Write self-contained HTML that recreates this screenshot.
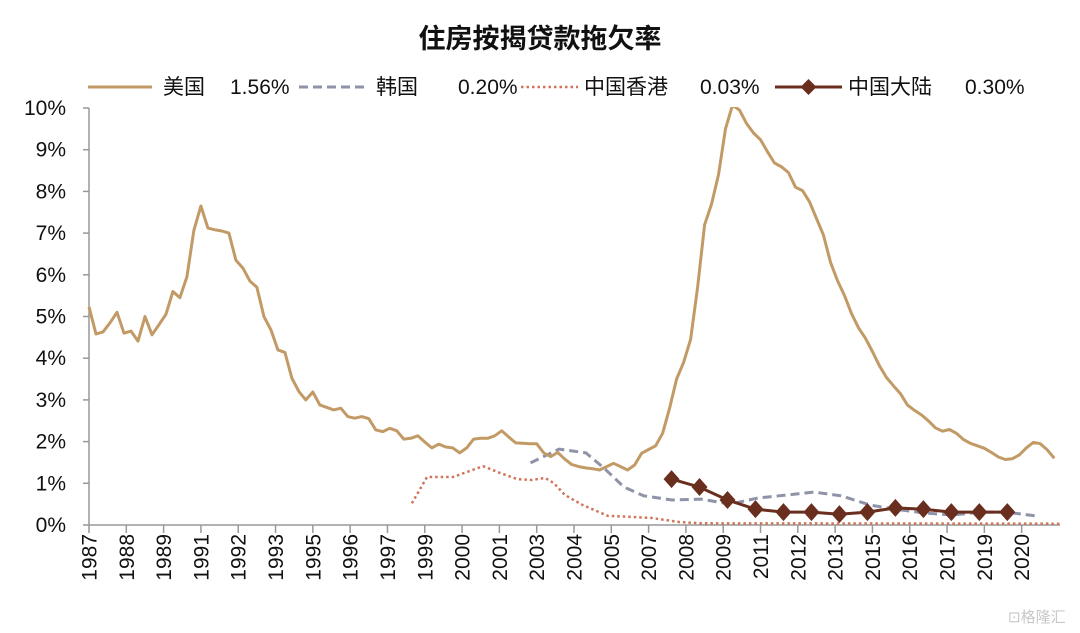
<!DOCTYPE html>
<html><head><meta charset="utf-8">
<style>
html,body{margin:0;padding:0;background:#fff;}
svg{display:block;font-family:"Liberation Sans","Noto Sans CJK SC",sans-serif;}
</style></head>
<body>
<svg id="chart" width="1080" height="633" viewBox="0 0 1080 633" xmlns="http://www.w3.org/2000/svg">
<defs><clipPath id="plotclip"><rect x="80" y="107" width="990" height="430"/></clipPath></defs>
<text x="540" y="48" text-anchor="middle" font-size="27" font-weight="bold" fill="#111">住房按揭贷款拖欠率</text>
<g font-size="21" fill="#111">
 <g><line x1="88" y1="87" x2="152" y2="87" stroke="#c29a66" stroke-width="3"/><text x="163" y="94">美国</text><text x="230" y="94">1.56%</text></g>
 <g><line x1="299" y1="87" x2="366" y2="87" stroke="#8e93a8" stroke-width="3" stroke-dasharray="9,5"/><text x="376" y="94">韩国</text><text x="458" y="94">0.20%</text></g>
 <g><line x1="521" y1="87" x2="578" y2="87" stroke="#d07358" stroke-width="2.5" stroke-dasharray="2.5,3"/><text x="584" y="94">中国香港</text><text x="700" y="94">0.03%</text></g>
 <g><line x1="775" y1="87" x2="842" y2="87" stroke="#6a2e1e" stroke-width="3"/><path d="M808.5 79 L816.5 87 L808.5 95 L800.5 87Z" fill="#6a2e1e"/><text x="848" y="94">中国大陆</text><text x="965" y="94">0.30%</text></g>
</g>
<g id="axes"></g>
<g id="series" clip-path="url(#plotclip)"></g>
<text x="1008" y="622" font-size="15" fill="#c8c8c8">⊡格隆汇</text>
</svg>
<script>
// ---- data ----
const yTicks = [0,1,2,3,4,5,6,7,8,9,10];
const xTickLabels = ["1987","1988","1989","1991","1992","1993","1995","1996","1997","1999","2000","2001","2003","2004","2005","2007","2008","2009","2011","2012","2013","2015","2016","2017","2019","2020"];
const usStart = 1987.0;
const usStep = 0.25;
const usValues = [5.23,4.58,4.63,4.85,5.1,4.6,4.65,4.41,5.0,4.56,4.8,5.05,5.6,5.45,5.95,7.07,7.65,7.12,7.08,7.05,7.0,6.35,6.16,5.85,5.7,5.0,4.68,4.2,4.14,3.52,3.2,3.0,3.19,2.88,2.82,2.76,2.8,2.6,2.56,2.6,2.55,2.28,2.24,2.32,2.26,2.06,2.08,2.14,1.99,1.85,1.94,1.87,1.85,1.73,1.85,2.06,2.08,2.08,2.14,2.26,2.11,1.97,1.96,1.95,1.95,1.73,1.64,1.74,1.58,1.45,1.40,1.37,1.35,1.32,1.40,1.48,1.40,1.32,1.44,1.72,1.81,1.90,2.2,2.8,3.5,3.9,4.45,5.7,7.2,7.7,8.4,9.5,10.07,9.95,9.63,9.4,9.24,8.95,8.68,8.59,8.45,8.1,8.02,7.75,7.35,6.95,6.3,5.86,5.5,5.07,4.73,4.48,4.16,3.82,3.54,3.34,3.15,2.88,2.75,2.64,2.5,2.33,2.25,2.29,2.2,2.05,1.96,1.9,1.84,1.74,1.63,1.57,1.59,1.68,1.85,1.98,1.95,1.8,1.6];
const krYears = [2002.78,2003.8,2004.76,2005.4,2006.12,2006.82,2007.84,2008.87,2009.91,2010.93,2011.95,2012.91,2013.88,2014.91,2015.81,2016.83,2017.84,2018.88,2019.77,2020.81];
const krValues = [1.49,1.82,1.73,1.37,0.91,0.7,0.6,0.62,0.5,0.65,0.72,0.79,0.7,0.48,0.38,0.29,0.24,0.31,0.31,0.22];
const hkYears = [1998.54,1999.08,2000.01,2001.08,2001.69,2002.3,2002.83,2003.3,2003.62,2004.01,2004.64,2005.54,2007.09,2008.11,2008.87,2021.7];
const hkValues = [0.52,1.15,1.15,1.41,1.25,1.1,1.08,1.13,1.0,0.72,0.48,0.22,0.17,0.07,0.04,0.03];
const cnYears = [2007.82,2008.82,2009.82,2010.82,2011.82,2012.82,2013.82,2014.82,2015.82,2016.82,2017.82,2018.82,2019.82];
const cnValues = [1.1,0.91,0.6,0.38,0.31,0.31,0.26,0.31,0.41,0.38,0.31,0.31,0.31];

// ---- scales ----
const X0 = 89, PXYR = 27.98, Y0 = 525, PXPCT = 41.7;
function xs(yr){ return X0 + (yr - 1987) * PXYR; }
function ys(v){ return Y0 - v * PXPCT; }
const NS = "http://www.w3.org/2000/svg";
function mk(tag, attrs, parent){ const e=document.createElementNS(NS,tag); for(const k in attrs) e.setAttribute(k,attrs[k]); parent.appendChild(e); return e; }
const axes = document.getElementById('axes');
const series = document.getElementById('series');

// y axis
const yAxis = mk('line',{x1:X0,y1:ys(10),x2:X0,y2:Y0,stroke:'#999','stroke-width':1.5},axes);


yTicks.forEach(t=>{
  const tk = mk('line',{x1:X0-6,y1:ys(t),x2:X0,y2:ys(t),stroke:'#999','stroke-width':1.5},axes);
  
  
  const lb = mk('text',{x:66,y:ys(t)+7,'text-anchor':'end','font-size':21,fill:'#111'},axes);
  lb.textContent = t + '%';
  
  
});
// x axis
const xAxis = mk('line',{x1:X0,y1:Y0,x2:1060,y2:Y0,stroke:'#999','stroke-width':1.5},axes);


xTickLabels.forEach((l,i)=>{
  const x = xs(1987 + i*4/3);
  const tk = mk('line',{x1:x,y1:Y0,x2:x,y2:Y0+8,stroke:'#999','stroke-width':1.5},axes);
  
  
  const lb = mk('text',{x:0,y:0,'text-anchor':'end','font-size':21,fill:'#111',transform:`translate(${x+7.5},${Y0+9}) rotate(-90)`},axes);
  lb.textContent = l;
  
  
});

function pts(xsArr, vals){ return vals.map((v,i)=>xs(xsArr[i]).toFixed(1)+','+ys(v).toFixed(1)).join(' '); }

// HK dotted
const hk = mk('polyline',{points:pts(hkYears,hkValues),fill:'none',stroke:'#d07358','stroke-width':2.5,'stroke-dasharray':'2.5,3'},series);


// Korea dashed
const kr = mk('polyline',{points:pts(krYears,krValues),fill:'none',stroke:'#8e93a8','stroke-width':3,'stroke-dasharray':'9,5','stroke-linejoin':'round'},series);


// US
const usYears = usValues.map((v,i)=>usStart + i*usStep);
const us = mk('polyline',{points:pts(usYears,usValues),fill:'none',stroke:'#c29a66','stroke-width':3,'stroke-linejoin':'round'},series);


// China mainland
const cn = mk('polyline',{points:pts(cnYears,cnValues),fill:'none',stroke:'#6a2e1e','stroke-width':3},series);


cnValues.forEach((v,i)=>{
  const cx = xs(cnYears[i]), cy = ys(v);
  const d = mk('path',{d:`M${cx} ${cy-9} L${cx+8} ${cy} L${cx} ${cy+9} L${cx-8} ${cy}Z`,fill:'#6a2e1e'},series);
  
  
});
</script>
</body></html>
